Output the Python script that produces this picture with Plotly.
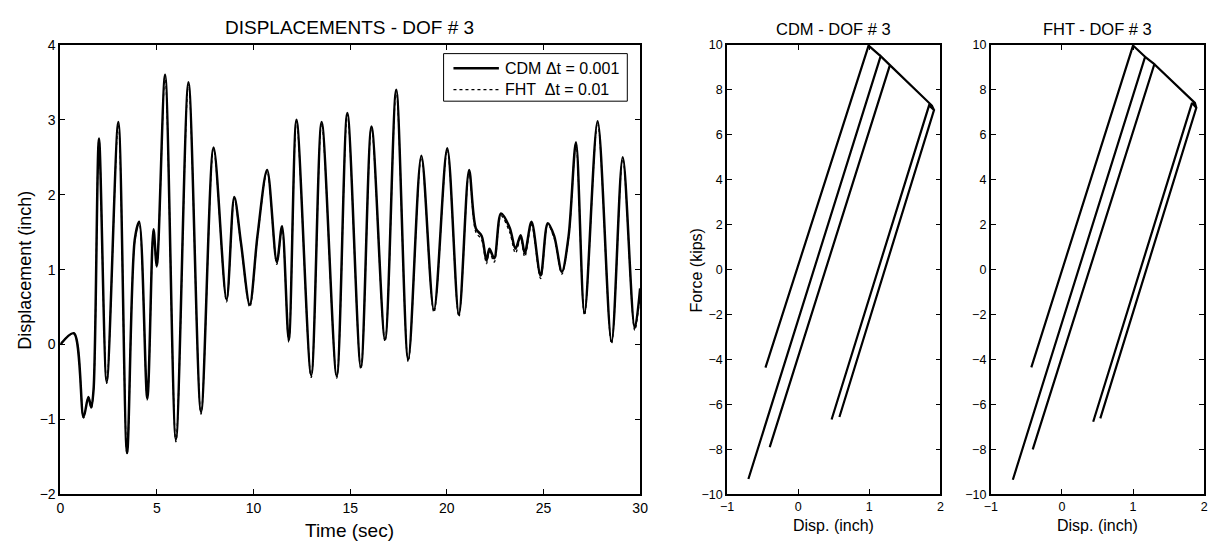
import plotly.graph_objects as go

# ---------------- data ----------------
# Displacement time history (knots read at extremes / shoulders)
cdm_t = [0, 0.7, 1.2, 1.45, 1.6, 1.72, 2.0, 2.4, 3.0, 3.45, 3.85, 4.08, 4.5, 4.82, 4.99, 5.42,
         5.98, 6.63, 7.28, 7.93, 8.6, 9.0, 9.35, 9.8, 10.2, 10.7, 11.2, 11.47, 11.82, 12.22,
         12.98, 13.52, 14.3, 14.85, 15.55, 16.1, 16.8, 17.38, 18.0, 18.68, 19.33, 20.02, 20.62,
         21.15, 21.5, 21.8, 22.05, 22.2, 22.45, 22.8, 23.25, 23.55, 23.82, 24.03, 24.38, 24.85,
         25.22, 25.55, 25.95, 26.3, 26.68, 27.12, 27.8, 28.52, 29.1, 29.72, 30]
cdm_d = [0, 0.15, -0.97, -0.7, -0.84, -0.6, 2.75, -0.5, 2.97, -1.45, 1.4, 1.64, -0.72, 1.54, 1.05, 3.6,
         -1.27, 3.5, -0.9, 2.63, 0.6, 1.97, 1.35, 0.53, 1.45, 2.33, 1.1, 1.58, 0.06, 3.0,
         -0.41, 2.97, -0.42, 3.09, -0.3, 2.91, 0.07, 3.4, -0.2, 2.52, 0.46, 2.62, 0.4,
         2.33, 1.55, 1.45, 1.12, 1.28, 1.15, 1.75, 1.56, 1.28, 1.46, 1.22, 1.64, 0.92,
         1.62, 1.45, 0.97, 1.45, 2.7, 0.42, 2.98, 0.04, 2.5, 0.22, 0.75]
fht_t = cdm_t
fht_d = [0, 0.15, -0.98, -0.7, -0.85, -0.6, 2.73, -0.52, 2.95, -1.47, 1.38, 1.62, -0.74, 1.52, 1.03, 3.58,
         -1.3, 3.48, -0.93, 2.61, 0.57, 1.95, 1.33, 0.5, 1.43, 2.31, 1.07, 1.56, 0.03, 2.98,
         -0.44, 2.95, -0.45, 3.07, -0.33, 2.89, 0.04, 3.38, -0.23, 2.5, 0.43, 2.6, 0.37,
         2.31, 1.5, 1.4, 1.08, 1.24, 1.1, 1.72, 1.5, 1.22, 1.42, 1.17, 1.6, 0.88,
         1.6, 1.42, 0.94, 1.43, 2.68, 0.39, 2.96, 0.01, 2.48, 0.19, 0.7]

# Force-displacement paths
cdm_disp = [-0.46, 0.99, 1.16, -0.70, 1.16, 1.29, -0.40, 1.29, 1.88, 1.91, 0.58, 1.91, 1.84, 0.47]
cdm_force = [-4.36, 9.97, 9.5, -9.32, 9.5, 9.1, -7.9, 9.1, 7.3, 7.1, -6.56, 7.1, 7.3, -6.67]
fht_disp = [-0.43, 1.0, 1.17, -0.69, 1.17, 1.30, -0.41, 1.30, 1.87, 1.89, 0.54, 1.89, 1.83, 0.44]
fht_force = [-4.35, 9.97, 9.47, -9.35, 9.47, 9.14, -8.0, 9.14, 7.42, 7.2, -6.62, 7.2, 7.42, -6.77]

legend_labels = ["CDM \u0394t = 0.001", "FHT \u00a0\u0394t = 0.01"]
time_ticks = [0, 5, 10, 15, 20, 25, 30]
disp_ticks = [-2, -1, 0, 1, 2, 3, 4]
hx_ticks = [-1, 0, 1, 2]
hy_ticks = [-10, -8, -6, -4, -2, 0, 2, 4, 6, 8, 10]

W, H = 1223, 546
FONT = "Liberation Sans, Arial, Helvetica, sans-serif"

fig = go.Figure()
fig.add_trace(go.Scatter(x=cdm_t, y=cdm_d, mode="lines", name=legend_labels[0], showlegend=False,
                         line=dict(color="black", width=2.5, shape="spline", smoothing=0.9),
                         xaxis="x", yaxis="y"))
fig.add_trace(go.Scatter(x=fht_t, y=fht_d, mode="lines", name=legend_labels[1], showlegend=False,
                         line=dict(color="black", width=1.3, dash="dot", shape="spline", smoothing=0.9),
                         xaxis="x", yaxis="y"))
fig.add_trace(go.Scatter(x=cdm_disp, y=cdm_force, mode="lines", showlegend=False,
                         line=dict(color="black", width=2.2), xaxis="x2", yaxis="y2"))
fig.add_trace(go.Scatter(x=fht_disp, y=fht_force, mode="lines", showlegend=False,
                         line=dict(color="black", width=2.2), xaxis="x3", yaxis="y3"))

def px(v):
    return v / W

def py(v):
    return 1 - v / H

top, bot = 38, 501
ydom = [py(bot), py(top)]

def ax(size, **kw):
    d = dict(showline=True, linecolor="black", linewidth=1.8, mirror="allticks",
             ticks="inside", ticklen=5, tickwidth=1.3, tickcolor="black",
             showgrid=False, zeroline=False,
             tickfont=dict(family=FONT, size=size, color="black"))
    d.update(kw)
    return d

fig.update_layout(
    width=W, height=H,
    margin=dict(l=0, r=0, t=0, b=0),
    paper_bgcolor="white", plot_bgcolor="white",
    font=dict(family=FONT, color="black"),
    showlegend=False,
    xaxis=ax(14, domain=[px(54), px(641)], range=[0, 30], tickvals=time_ticks, anchor="y"),
    yaxis=ax(14, domain=ydom, range=[-2, 4], tickvals=disp_ticks, anchor="x"),
    xaxis2=ax(12.5, domain=[px(729), px(945)], range=[-1, 2], tickvals=hx_ticks, anchor="y2"),
    yaxis2=ax(12.5, domain=ydom, range=[-10, 10], tickvals=hy_ticks, anchor="x2"),
    xaxis3=ax(12.5, domain=[px(996), px(1212)], range=[-1, 2], tickvals=hx_ticks, anchor="y3"),
    yaxis3=ax(12.5, domain=ydom, range=[-10, 10], tickvals=hy_ticks, anchor="x3"),
)

# legend box drawn in the MATLAB style (long line samples)
fig.add_shape(type="rect", xref="paper", yref="paper", x0=px(442), x1=px(628), y0=py(96), y1=py(47),
              line=dict(color="black", width=1), fillcolor="white", layer="above")
fig.add_shape(type="line", xref="paper", yref="paper", x0=px(452), x1=px(498), y0=py(62), y1=py(62),
              line=dict(color="black", width=2.4), layer="above")
fig.add_shape(type="line", xref="paper", yref="paper", x0=px(452), x1=px(498), y0=py(84), y1=py(84),
              line=dict(color="black", width=1.3, dash="dot"), layer="above")

ann = [
    dict(text=legend_labels[0], x=px(502), y=py(62), size=16, xa="left"),
    dict(text=legend_labels[1], x=px(502), y=py(84), size=16, xa="left"),
    dict(text="DISPLACEMENTS - DOF # 3", x=px(347), y=py(20), size=19),
    dict(text="CDM - DOF # 3", x=px(837), y=py(22), size=16.5),
    dict(text="FHT - DOF # 3", x=px(1104), y=py(22), size=16.5),
    dict(text="Time (sec)", x=px(347), y=py(538), size=19),
    dict(text="Disp. (inch)", x=px(837), y=py(533), size=16),
    dict(text="Disp. (inch)", x=px(1104), y=py(533), size=16),
    dict(text="Displacement (inch)", x=px(18), y=py(270), size=18, angle=-90),
    dict(text="Force (kips)", x=px(698), y=py(270), size=16, angle=-90),
]
for a in ann:
    fig.add_annotation(text=a["text"], x=a["x"], y=a["y"], xref="paper", yref="paper",
                       xanchor=a.get("xa", "center"), yanchor="middle", showarrow=False,
                       textangle=a.get("angle", 0),
                       font=dict(family=FONT, size=a["size"], color="black"))

fig.write_html("out.html")
